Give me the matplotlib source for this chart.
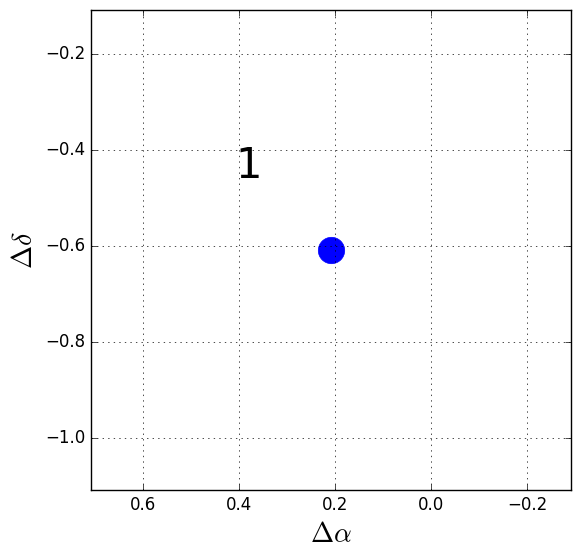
import matplotlib
matplotlib.use("Agg")
import matplotlib.pyplot as plt

plt.style.use('classic')

# data
ra_offsets = [0.2083]
dec_offsets = [-0.6083]
labels = ["1"]
half_width = 0.5
label_dx = 0.2
label_dy = 0.15

fig = plt.figure(figsize=(5.8, 5.58), dpi=100)
fig.patch.set_facecolor('white')
ax = fig.add_axes([0.1569, 0.1219, 0.8276, 0.8602])

ax.plot(ra_offsets, dec_offsets, 'o', color='blue', markeredgecolor='blue',
        markersize=19)
for x, y, lab in zip(ra_offsets, dec_offsets, labels):
    ax.text(x + label_dx, y + label_dy, lab, fontsize=30)

cx, cy = ra_offsets[0], dec_offsets[0]
ax.set_xlim(cx + half_width, cx - half_width)
ax.set_ylim(cy - half_width, cy + half_width)
ax.set_xticks([0.6, 0.4, 0.2, 0.0, -0.2])
ax.set_yticks([-0.2, -0.4, -0.6, -0.8, -1.0])
ax.grid(True)
ax.set_xlabel(r'$\Delta\alpha$', fontsize=20)
ax.set_ylabel(r'$\Delta\delta$', fontsize=20)

fig.savefig('out.png', dpi=100, facecolor='white')
